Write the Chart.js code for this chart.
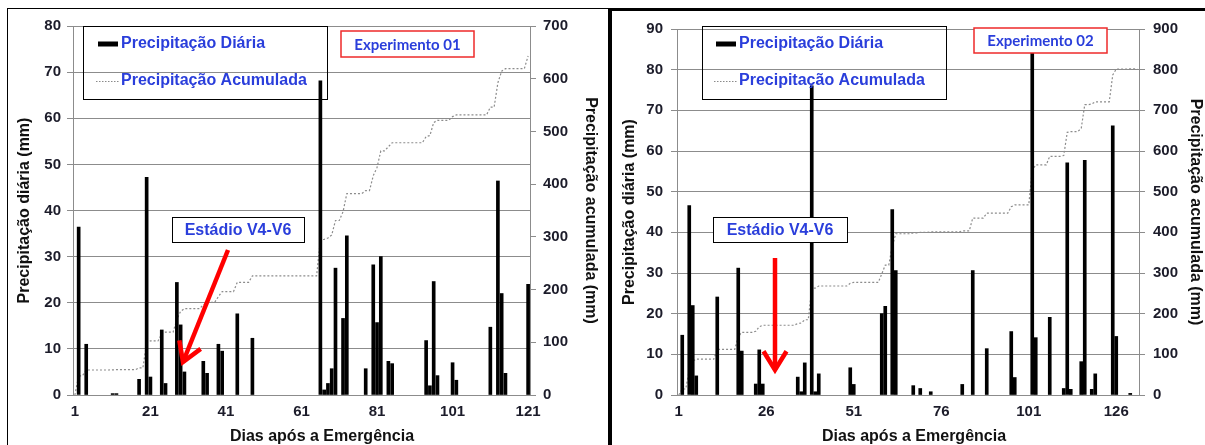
<!DOCTYPE html>
<html>
<head>
<meta charset="utf-8">
<script src="https://cdn.jsdelivr.net/npm/chart.js@4.4.1/dist/chart.umd.min.js"></script>
<style>
  body { margin:0; background:#fff; width:1205px; height:445px; overflow:hidden; position:relative; }
  .frame1 { position:absolute; left:7px; top:8px; width:602px; height:470px; border:1.5px solid #000; box-sizing:border-box; }
  .frame2 { position:absolute; left:608px; top:8px; width:620px; height:470px; border-left:4px solid #000; border-top:3px solid #000; box-sizing:border-box; }
  canvas { position:absolute; }
  #c1 { left:8px; top:10px; }
  #c2 { left:612px; top:12px; }
</style>
</head>
<body>
<div class="frame1"></div>
<div class="frame2"></div>
<canvas id="c1" width="598" height="435"></canvas>
<canvas id="c2" width="593" height="433"></canvas>
<script>
// texts
const seriesNames = ["Precipitação Diária", "Precipitação Acumulada"];
const yTitles = ["Precipitação diária (mm)", "Precipitação acumulada (mm)"];
const xTitle = "Dias após a Emergência";
const expNames = ["Experimento 01", "Experimento 02"];
const stageLabel = "Estádio V4-V6";

// Experimento 01 - chuva diária (dia, mm)
const days1 = [2,4,11,12,18,20,21,24,25,28,29,30,35,36,39,40,44,48,66,67,68,69,70,72,73,78,80,81,82,84,85,94,95,96,97,101,102,111,113,114,115,121];
const rain1 = [36.4,11.0,0.3,0.3,3.4,47.2,3.9,14.1,2.5,24.4,15.2,5.0,7.3,4.7,11.0,9.5,17.6,12.3,68.1,1.1,2.5,5.7,27.5,16.6,34.5,5.7,28.2,15.7,30.0,7.3,6.8,11.8,2.0,24.6,4.2,7.0,3.2,14.7,46.4,22.0,4.7,24.0];
// Experimento 01 - acumulada (vértices da linha)
const accDays1 = [1,2,3,4,10,11,12,17,18,19,20,21,23,24,25,27,28,29,30,34,35,36,38,39,40,43,44,47,48,65,66,67,68,69,70,71,72,73,77,78,79,80,81,82,83,84,85,93,94,95,96,97,100,101,102,110,111,112,113,114,115,120,121];
const acc1 = [0,36.4,36.4,47.4,47.4,47.7,48.0,48.0,51.4,51.4,98.6,102.5,102.5,116.6,119.1,119.1,143.5,158.7,163.7,163.7,171.0,175.7,175.7,186.7,196.2,196.2,213.8,213.8,226.1,226.1,294.2,295.3,297.8,303.5,331.0,331.0,347.6,382.1,382.1,387.8,387.8,416.0,431.7,463.0,463.0,471.0,478.5,478.5,490.3,492.3,516.9,521.1,521.1,528.1,531.3,531.3,546.0,546.0,592.4,614.4,619.1,619.1,643.1];
const xTicks1 = [1,21,41,61,81,101,121];

// Experimento 02
const days2 = [2,4,5,6,12,18,19,23,24,25,35,36,37,39,40,41,50,51,59,60,62,63,68,70,73,82,85,89,96,97,102,103,107,111,112,113,116,117,119,120,125,126,130];
const rain2 = [14.7,46.6,22.0,4.7,24.1,31.2,10.8,2.7,11.1,2.7,4.4,0.8,7.9,76.0,0.8,5.2,6.7,2.6,20.0,21.8,45.6,30.6,2.3,1.6,0.8,2.6,30.6,11.4,15.6,4.3,87.0,14.1,19.1,1.6,57.1,1.4,8.2,57.7,1.4,5.2,66.2,14.4,0.4];
const accDays2 = [1,2,3,4,5,6,11,12,17,18,19,22,23,24,25,34,35,36,37,38,39,40,41,49,50,51,58,59,60,61,62,63,67,68,69,70,72,73,81,82,84,85,88,89,95,96,97,101,102,103,106,107,110,111,112,113,115,116,117,118,119,120,124,125,126,129,130,132];
const acc2 = [0,14.7,14.7,61.3,83.3,88.0,88.0,112.1,112.1,143.3,154.1,154.1,156.8,167.9,171.5,171.5,176.0,177.0,185.0,185.0,262.0,263.0,268.0,268.0,274.5,277.0,277.0,297.5,319.5,319.5,365.5,396.5,396.5,398.5,398.5,400.0,400.0,401.0,401.0,403.5,403.5,435.0,435.0,447.0,447.0,463.0,467.5,467.5,552.0,566.0,566.0,587.0,587.0,589.0,646.0,647.5,647.5,656.0,714.0,714.0,715.5,721.0,721.0,787.0,801.5,801.5,802.0,802.0];
const xTicks2 = [1,26,51,76,101,126];

const FONT = '"Liberation Sans", Arial, sans-serif';
const blue = '#2a3edb';
const gridCol = '#8c8c8c';
const tickCol = '#1c1c2a';
Chart.defaults.font.family = FONT;

// legenda, caixas de texto e seta
const decor = {
  id: 'decor',
  afterDraw(chart, args, o) {
    const c = chart.ctx;
    c.save();
    const g = o.legend;
    c.lineWidth = 1; c.strokeStyle = '#000';
    c.strokeRect(g.x + 0.5, g.y + 0.5, g.w, g.h);
    c.fillStyle = '#000';
    c.fillRect(g.tx - 23, g.r1 - 2.5, 20, 5);
    c.strokeStyle = '#8a8a8a'; c.setLineDash([1.5, 1.5]);
    c.beginPath(); c.moveTo(g.tx - 25, g.r2 + 0.5); c.lineTo(g.tx - 1, g.r2 + 0.5); c.stroke();
    c.setLineDash([]);
    c.font = 'bold 16px ' + FONT;
    c.fillStyle = blue; c.textAlign = 'left'; c.textBaseline = 'middle';
    c.fillText(seriesNames[0], g.tx, g.r1);
    c.fillText(seriesNames[1], g.tx, g.r2);

    const e = o.exp;
    c.fillStyle = '#fff'; c.fillRect(e.x, e.y, e.w, e.h);
    c.strokeStyle = '#ee2a2a'; c.lineWidth = 1.5; c.strokeRect(e.x, e.y, e.w, e.h);
    c.font = 'bold 15px Lato, ' + FONT; c.fillStyle = blue; c.textAlign = 'center';
    c.fillText(e.text, e.x + e.w / 2, e.y + e.h / 2 + 1);

    const s = o.stage;
    c.fillStyle = '#fff'; c.fillRect(s.x, s.y, s.w, s.h);
    c.strokeStyle = '#000'; c.lineWidth = 1; c.strokeRect(s.x + 0.5, s.y + 0.5, s.w, s.h);
    c.font = 'bold 16px ' + FONT; c.fillStyle = blue;
    c.fillText(stageLabel, s.x + s.w / 2, s.y + s.h / 2 + 1);

    const a = o.arrow;
    c.strokeStyle = '#ff0000'; c.lineWidth = 4.5; c.lineJoin = 'miter';
    const ang = Math.atan2(a.y1 - a.y2, a.x1 - a.x2);
    c.beginPath(); c.moveTo(a.x1, a.y1); c.lineTo(a.x2, a.y2); c.stroke();
    c.beginPath();
    c.moveTo(a.x2 + 22 * Math.cos(ang - 0.55), a.y2 + 22 * Math.sin(ang - 0.55));
    c.lineTo(a.x2, a.y2);
    c.lineTo(a.x2 + 22 * Math.cos(ang + 0.55), a.y2 + 22 * Math.sin(ang + 0.55));
    c.stroke();

    c.font = 'bold 16px ' + FONT; c.fillStyle = '#111'; c.textAlign = 'center';
    c.fillText(xTitle, o.xt.x, o.xt.y);
    c.restore();
  }
};

const tickFont = { family: FONT, size: 15, weight: 'bold' };
const titleFont = { family: FONT, size: 16, weight: 'bold' };

function build(id, d) {
  return new Chart(document.getElementById(id), {
    data: {
      datasets: [
        { type: 'bar', data: d.days.map((x, i) => ({ x: x, y: d.rain[i] })),
          backgroundColor: '#000', barThickness: 3, yAxisID: 'y' },
        { type: 'line', data: d.accDays.map((x, i) => ({ x: x, y: d.acc[i] })),
          borderColor: '#8c8c8c', borderWidth: 1.2, borderDash: [2, 2],
          pointRadius: 0, tension: 0, yAxisID: 'y2' }
      ]
    },
    options: {
      responsive: false,
      animation: false,
      layout: { padding: { top: d.padTop, bottom: 0, left: 0, right: 0 } },
      plugins: { legend: { display: false }, tooltip: { enabled: false }, decor: d.decor },
      scales: {
        x: {
          type: 'linear', min: 0.5, max: d.xMax, offset: false,
          grid: { display: false, drawTicks: false, offset: false },
          border: { color: gridCol },
          ticks: { font: tickFont, color: tickCol, padding: 8, maxRotation: 0, autoSkip: false },
          afterBuildTicks: s => { s.ticks = d.xTicks.map(v => ({ value: v })); },
          afterFit: s => { s.height = 50; }
        },
        y: {
          position: 'left', min: 0, max: d.yMax,
          ticks: { stepSize: 10, font: tickFont, color: tickCol, padding: d.lp },
          grid: { color: gridCol, tickLength: 6, tickColor: gridCol },
          border: { color: gridCol },
          title: { display: true, text: yTitles[0], font: titleFont, color: '#111', padding: { top: d.lt, bottom: 0 } },
          afterFit: s => { s.width = 65; }
        },
        y2: {
          position: 'right', min: 0, max: d.y2Max,
          ticks: { stepSize: 100, font: tickFont, color: tickCol, padding: d.rp },
          grid: { drawOnChartArea: false, tickLength: 6, tickColor: gridCol },
          border: { color: gridCol },
          title: { display: true, text: yTitles[1], font: titleFont, color: '#111', padding: { top: d.rt, bottom: 0 } },
          afterFit: s => { s.width = d.rw; }
        }
      }
    },
    plugins: [decor]
  });
}

build('c1', {
  days: days1, rain: rain1, accDays: accDays1, acc: acc1, xTicks: xTicks1,
  xMax: 121.5, yMax: 80, y2Max: 700, padTop: 13, lp: 6, rp: 7, lt: 7.4, rt: 6.4, rw: 76,
  decor: {
    legend: { x: 75, y: 16, w: 244, h: 73, tx: 113, r1: 34, r2: 71 },
    exp: { x: 333, y: 21, w: 133, h: 26, text: expNames[0] },
    stage: { x: 164, y: 207, w: 132, h: 25 },
    arrow: { x1: 220, y1: 240, x2: 175, y2: 352 },
    xt: { x: 314, y: 427 }
  }
});

build('c2', {
  days: days2, rain: rain2, accDays: accDays2, acc: acc2, xTicks: xTicks2,
  xMax: 132.5, yMax: 90, y2Max: 900, padTop: 11, lp: 8, rp: 8, lt: 8.4, rt: 0, rw: 66,
  decor: {
    legend: { x: 90, y: 14, w: 244, h: 73, tx: 127, r1: 32, r2: 69 },
    exp: { x: 362, y: 16, w: 133, h: 25, text: expNames[1] },
    stage: { x: 101, y: 205, w: 134, h: 25 },
    arrow: { x1: 163, y1: 246, x2: 163, y2: 358 },
    xt: { x: 302, y: 425 }
  }
});
</script>
</body>
</html>
